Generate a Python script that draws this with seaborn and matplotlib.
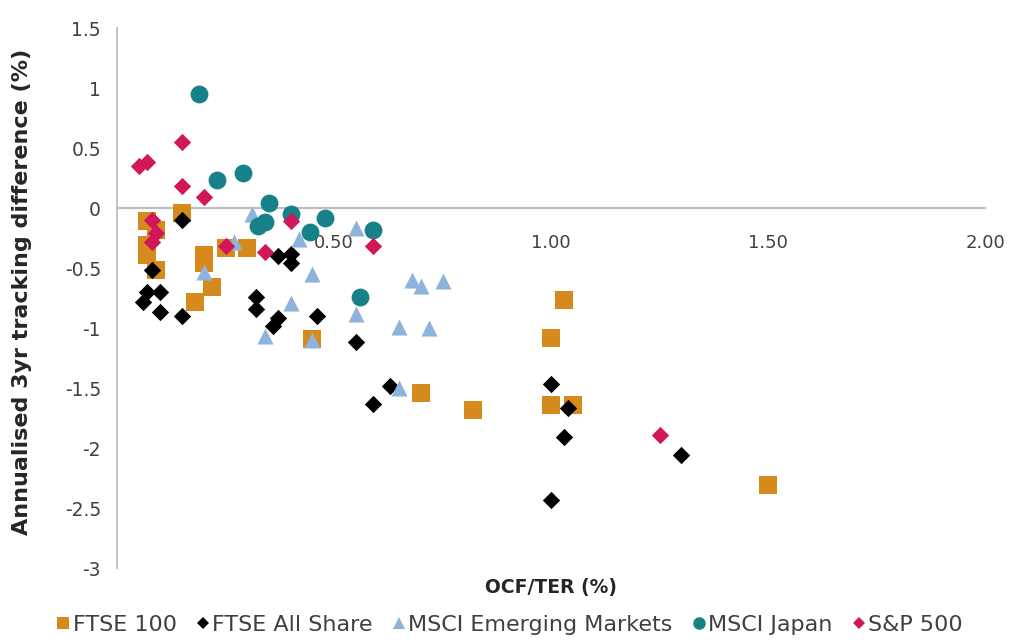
import matplotlib
matplotlib.use("Agg")
import matplotlib.pyplot as plt
from matplotlib.lines import Line2D
import seaborn as sns
import pandas as pd

# ---- data ----
ftse100_x = [0.07, 0.09, 0.07, 0.07, 0.09, 0.15, 0.18, 0.20, 0.20, 0.22, 0.25, 0.30,
             0.45, 0.70, 0.82, 1.00, 1.00, 1.03, 1.05, 1.50]
ftse100_y = [-0.11, -0.18, -0.31, -0.39, -0.52, -0.04, -0.78, -0.39, -0.46, -0.66, -0.33, -0.33,
             -1.09, -1.54, -1.68, -1.08, -1.64, -0.77, -1.64, -2.31]

allshare_x = [0.15, 0.08, 0.07, 0.10, 0.06, 0.10, 0.15, 0.32, 0.32, 0.37, 0.36, 0.37,
              0.40, 0.40, 0.46, 0.55, 0.63, 0.59, 1.00, 1.04, 1.03, 1.30, 1.00]
allshare_y = [-0.10, -0.52, -0.70, -0.70, -0.78, -0.87, -0.90, -0.74, -0.84, -0.92, -0.98, -0.40,
              -0.38, -0.46, -0.90, -1.12, -1.48, -1.63, -1.47, -1.67, -1.91, -2.06, -2.43]

em_x = [0.31, 0.27, 0.42, 0.55, 0.20, 0.45, 0.40, 0.34, 0.55, 0.45, 0.65, 0.72,
        0.68, 0.70, 0.75, 0.65]
em_y = [-0.05, -0.28, -0.26, -0.17, -0.53, -0.55, -0.79, -1.07, -0.88, -1.10, -0.99, -1.00,
        -0.60, -0.65, -0.61, -1.50]

japan_x = [0.19, 0.23, 0.29, 0.35, 0.325, 0.34, 0.40, 0.445, 0.48, 0.59, 0.56]
japan_y = [0.95, 0.23, 0.29, 0.04, -0.15, -0.12, -0.05, -0.20, -0.08, -0.18, -0.74]

sp500_x = [0.05, 0.07, 0.15, 0.15, 0.20, 0.08, 0.09, 0.08, 0.25, 0.34, 0.40, 0.59, 1.25]
sp500_y = [0.35, 0.38, 0.55, 0.18, 0.09, -0.10, -0.21, -0.28, -0.32, -0.37, -0.11, -0.32, -1.89]

series_names = ["FTSE 100", "FTSE All Share", "MSCI Emerging Markets", "MSCI Japan", "S&P 500"]
x_ticks = [0.5, 1.0, 1.5, 2.0]
x_tick_labels = ["0.50", "1.00", "1.50", "2.00"]
y_ticks = [1.5, 1.0, 0.5, 0.0, -0.5, -1.0, -1.5, -2.0, -2.5, -3.0]
y_tick_labels = ["1.5", "1", "0.5", "0", "-0.5", "-1", "-1.5", "-2", "-2.5", "-3"]

# ---- style ----
colors = {"FTSE 100": "#D6891C", "FTSE All Share": "#000000",
          "MSCI Emerging Markets": "#8EB4DC", "MSCI Japan": "#17818A", "S&P 500": "#D01759"}
markers = {"FTSE 100": "s", "FTSE All Share": "D", "MSCI Emerging Markets": "^",
           "MSCI Japan": "o", "S&P 500": "D"}
sizes = {"FTSE 100": 150, "FTSE All Share": 78, "MSCI Emerging Markets": 135,
         "MSCI Japan": 165, "S&P 500": 78}

sns.set_style("white")
plt.rcParams["font.family"] = ["DejaVu Sans"]

xs = [ftse100_x, allshare_x, em_x, japan_x, sp500_x]
ys = [ftse100_y, allshare_y, em_y, japan_y, sp500_y]
frames = []
for name, xv, yv in zip(series_names, xs, ys):
    frames.append(pd.DataFrame({"ocf": xv, "td": yv, "series": name}))
df = pd.concat(frames, ignore_index=True)

fig = plt.figure(figsize=(10.21, 6.44), dpi=100)
ax = fig.add_axes([117 / 1021, 1 - 568 / 644, (985 - 117) / 1021, (568 - 28) / 644])

for name in series_names:
    sub = df[df["series"] == name]
    sns.scatterplot(data=sub, x="ocf", y="td", ax=ax, color=colors[name],
                    marker=markers[name], s=sizes[name], linewidth=0, legend=False,
                    zorder=3)

ax.set_xlim(0, 2.0)
ax.set_ylim(-3, 1.5)
ax.set_xlabel("")
ax.set_ylabel("")

axis_color = "#BEBEBE"
for side in ["top", "right"]:
    ax.spines[side].set_visible(False)
ax.spines["left"].set_position(("data", 0))
ax.spines["bottom"].set_position(("data", 0))
ax.spines["left"].set_color(axis_color)
ax.spines["bottom"].set_color(axis_color)
ax.spines["left"].set_linewidth(1.3)
ax.spines["bottom"].set_linewidth(1.6)
ax.spines["left"].set_zorder(1)
ax.spines["bottom"].set_zorder(1)

ax.set_xticks(x_ticks)
ax.set_xticklabels(x_tick_labels)
ax.set_yticks(y_ticks)
ax.set_yticklabels(y_tick_labels)
ax.tick_params(axis="x", direction="out", length=4, width=1.0, color=axis_color,
               labelsize=13, labelcolor="#404040", pad=15)
ax.tick_params(axis="y", direction="out", length=4.5, width=1.0, color=axis_color,
               labelsize=13.5, labelcolor="#404040", pad=7)
ax.grid(False)

fig.text(22 / 1021, 1 - 292 / 644, "Annualised 3yr tracking difference (%)",
         rotation=90, ha="center", va="center", fontsize=16, fontweight="bold",
         color="#262626")
fig.text(551 / 1021, 1 - 587 / 644, "OCF/TER (%)", ha="center", va="center",
         fontsize=13.5, fontweight="bold", color="#262626")

handles = []
leg_sizes = {"s": 9, "D": 6.5, "^": 9, "o": 9}
for name in series_names:
    handles.append(Line2D([0], [0], linestyle="none", marker=markers[name],
                          markersize=leg_sizes[markers[name]], markerfacecolor=colors[name],
                          markeredgewidth=0, label=name))
fig.legend(handles=handles, loc="center", bbox_to_anchor=(510 / 1021, 1 - 625 / 644),
           ncol=5, frameon=False, fontsize=16, handlelength=0.55, handletextpad=0.15,
           columnspacing=0.9, labelcolor="#404040", borderpad=0)

fig.savefig("out.png", dpi=100)
